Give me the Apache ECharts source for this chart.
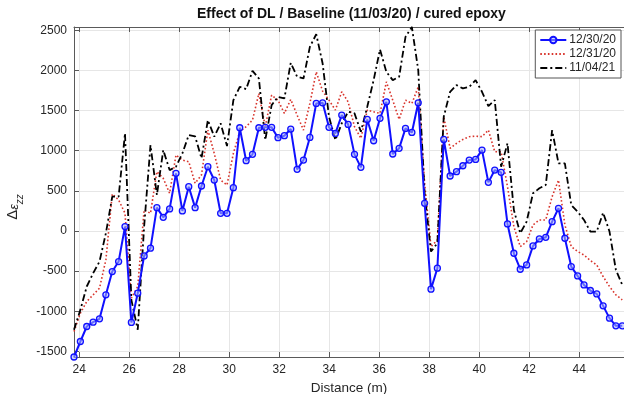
<!DOCTYPE html>
<html>
<head>
<meta charset="utf-8">
<script src="https://cdn.jsdelivr.net/npm/echarts@6/dist/echarts.min.js"></script>
<style>
  html, body { margin: 0; padding: 0; background: #fff; }
  #chart { width: 624px; height: 394px; }
</style>
</head>
<body>
<div id="chart"></div>
<script>
// distance along the fibre (m)
const distance = [
  23.79, 24.045, 24.30, 24.555, 24.81, 25.065, 25.32, 25.575, 25.83, 26.085,
  26.34, 26.595, 26.85, 27.105, 27.36, 27.615, 27.87, 28.125, 28.38, 28.635,
  28.89, 29.145, 29.40, 29.655, 29.91, 30.165, 30.42, 30.675, 30.93, 31.185,
  31.44, 31.695, 31.95, 32.205, 32.46, 32.715, 32.97, 33.225, 33.48, 33.735,
  33.99, 34.245, 34.50, 34.755, 35.01, 35.265, 35.52, 35.775, 36.03, 36.285,
  36.54, 36.795, 37.05, 37.305, 37.56, 37.815, 38.07, 38.325, 38.58, 38.835,
  39.09, 39.345, 39.60, 39.855, 40.11, 40.365, 40.62, 40.875, 41.13, 41.385,
  41.64, 41.895, 42.15, 42.405, 42.66, 42.915, 43.17, 43.425, 43.68, 43.935,
  44.19, 44.445, 44.70, 44.955, 45.21, 45.465, 45.72
];
const strain1230 = [
  -1570, -1377, -1190, -1136, -1095, -796, -506, -381, 54, -1140,
  -775, -311, -215, 290, 170, 274, 717, 249, 551, 290,
  560, 800, 634, 220, 220, 539, 1285, 875, 954, 1285,
  1290, 1290, 1161, 1186, 1269, 767, 883, 1165, 1588, 1596,
  1290, 1215, 1443, 1327, 954, 792, 1389, 1123, 1402, 1608,
  958, 1029, 1277, 1227, 1596, 344, -725, -464, 1140, 684,
  738, 812, 883, 891, 1007, 605, 758, 730, 87, -278,
  -477, -423, -187, -100, -79, 116, 282, -91, -444, -560,
  -672, -742, -784, -933, -1086, -1182, -1182
];
const strain1231 = [
  -1252, -1024, -879, -796, -713, -361, 460, 386, 220, -837,
  -692, 261, 220, 738, 655, 469, 945, 883, 862, 593,
  697, 1256, 966, 634, 572, 966, 1235, 1298, 1381, 1712,
  1298, 1692, 1629, 1464, 1638, 1443, 1256, 1588, 1981, 1741,
  1629, 1505, 1733, 1608, 1298, 1153, 1505, 1484, 1464, 1857,
  1629, 1389, 1629, 1588, 1795, 593, -195, -112, 1422, 1029,
  1091, 1140, 1174, 1181, 1174, 1256, 986, 986, 551, 54,
  -195, -133, 75, 137, 137, 427, 634, 75, -195, -257,
  -299, -369, -423, -568, -692, -796, -858
];
const strain1104 = [
  -1231, -983, -692, -526, -381, -29, 427, 427, 1215, -858,
  -1231, 54, 1070, 448, 1007, 758, 800, 966, 1194, 1178,
  904, 1381, 1174, 1340, 1057, 1629, 1795, 1766, 1994, 1899,
  1132, 1567, 1670, 1650, 2094, 1920, 1899, 2293, 2450, 2085,
  1422, 1132, 1340, 1484, 1464, 1235, 1546, 1878, 2260, 1981,
  1878, 1920, 2417, 2540, 2003, 469, -257, -153, 1422, 1733,
  1816, 1775, 1795, 1878, 1733, 1555, 1629, 800, 1091, 261,
  -29, 116, 469, 531, 572, 1256, 842, 842, 323, 240,
  137, -8, -8, 228, -8, -485, -672
];
const seriesNames = ['12/30/20', '12/31/20', '11/04/21'];
const xTicks = [24, 26, 28, 30, 32, 34, 36, 38, 40, 42, 44];
const yTicks = [-1500, -1000, -500, 0, 500, 1000, 1500, 2000, 2500];
const xRange = [23.79, 45.79];
const yRange = [-1570, 2540];

const FONT = '"Liberation Sans", Arial, Helvetica, sans-serif';
const AXIS_COLOR = '#5a5a5a';
const TEXT_COLOR = '#262626';

/** pair distance with a strain list */
const toPoints = (values) => distance.map((d, i) => [d, values[i]]);

/** build options */
const generateOptions = () => {
  const baseX = {
    type: 'value',
    min: xRange[0],
    max: xRange[1],
    splitNumber: 11,
    axisLine: { show: true, onZero: false, lineStyle: { color: AXIS_COLOR, width: 1 } },
    axisTick: { show: true, inside: true, length: 5, lineStyle: { color: AXIS_COLOR } }
  };
  const noMarker = { color: 'transparent', borderColor: 'transparent', borderWidth: 0 };
  return {
    animation: false,
    backgroundColor: '#fff',
    textStyle: { fontFamily: FONT },
    title: {
      text: 'Effect of DL / Baseline (11/03/20) / cured epoxy',
      left: 197,
      top: 7,
      padding: 0,
      textStyle: { fontFamily: FONT, fontSize: 14, fontWeight: 'bold', color: '#111' }
    },
    legend: {
      data: [
        { name: seriesNames[0] },
        { name: seriesNames[1], itemStyle: noMarker },
        { name: seriesNames[2], itemStyle: noMarker }
      ],
      orient: 'vertical',
      right: 3,
      top: 30,
      itemWidth: 26,
      itemHeight: 8,
      itemGap: 2,
      padding: [4, 5, 4, 4],
      backgroundColor: '#fff',
      borderColor: '#555',
      borderWidth: 1,
      borderRadius: 0,
      textStyle: { fontFamily: FONT, fontSize: 12, color: TEXT_COLOR, padding: [0, 0, 0, -2] }
    },
    grid: { left: 74, right: 0, top: 27, bottom: 37, containLabel: false, outerBoundsMode: 'none' },
    xAxis: [
      Object.assign({}, baseX, {
        position: 'bottom',
        name: 'Distance (m)',
        nameLocation: 'middle',
        nameGap: 24,
        nameTextStyle: { fontFamily: FONT, fontSize: 13.5, color: TEXT_COLOR },
        axisLabel: {
          fontFamily: FONT, fontSize: 12, color: TEXT_COLOR, margin: 7,
          showMinLabel: false, showMaxLabel: false,
          formatter: (v) => (xTicks.indexOf(Math.round(v * 100) / 100) >= 0 ? String(v) : '')
        },
        splitLine: { show: true, lineStyle: { color: '#e6e6e6', width: 1 } }
      }),
      Object.assign({}, baseX, {
        position: 'top',
        axisLabel: { show: false },
        splitLine: { show: false }
      })
    ],
    yAxis: {
      type: 'value',
      min: yRange[0],
      max: yRange[1],
      splitNumber: 8,
      name: '{d|Δ}{e|ε}{s|zz}',
      nameLocation: 'middle',
      nameGap: 30,
      nameRotate: 90,
      nameTextStyle: {
        color: TEXT_COLOR,
        padding: [0, 30, 0, 0],
        rich: {
          d: { fontFamily: FONT, fontSize: 15, color: TEXT_COLOR, lineHeight: 20, verticalAlign: 'bottom' },
          e: { fontFamily: FONT, fontSize: 13, fontStyle: 'italic', color: TEXT_COLOR, lineHeight: 20, verticalAlign: 'bottom' },
          s: { fontFamily: FONT, fontSize: 10, fontStyle: 'italic', color: TEXT_COLOR, lineHeight: 14, verticalAlign: 'bottom', padding: [0, 0, -5, 0] }
        }
      },
      axisLine: { show: true, onZero: false, lineStyle: { color: AXIS_COLOR, width: 1 } },
      axisTick: { show: true, inside: true, length: 5, lineStyle: { color: AXIS_COLOR } },
      axisLabel: {
        fontFamily: FONT, fontSize: 12, color: TEXT_COLOR, margin: 7,
        showMinLabel: false, showMaxLabel: false,
        formatter: (v) => (yTicks.indexOf(Math.round(v)) >= 0 ? String(v) : '')
      },
      splitLine: { show: true, lineStyle: { color: '#e6e6e6', width: 1 } }
    },
    series: [
      {
        name: seriesNames[0],
        type: 'line',
        data: toPoints(strain1230),
        symbol: 'circle',
        symbolSize: 6,
        showAllSymbol: true,
        clip: true,
        z: 3,
        lineStyle: { color: '#1010ff', width: 2 },
        itemStyle: { color: 'rgba(170,180,255,0.55)', borderColor: '#1010ff', borderWidth: 1.3 }
      },
      {
        name: seriesNames[1],
        type: 'line',
        data: toPoints(strain1231),
        symbol: 'none',
        clip: true,
        z: 2,
        lineStyle: { color: '#d8342c', width: 1.6, type: [1.6, 2.2] },
        itemStyle: { color: '#d8342c' }
      },
      {
        name: seriesNames[2],
        type: 'line',
        data: toPoints(strain1104),
        symbol: 'none',
        clip: true,
        z: 2,
        lineStyle: { color: '#000', width: 1.8, type: [7, 3, 2, 3] },
        itemStyle: { color: '#000' }
      }
    ]
  };
};

/** init */
const init = () => {
  const chart = echarts.init(document.getElementById('chart'), null, { renderer: 'canvas' });
  chart.setOption(generateOptions(), true);
};

init();
</script>
</body>
</html>
